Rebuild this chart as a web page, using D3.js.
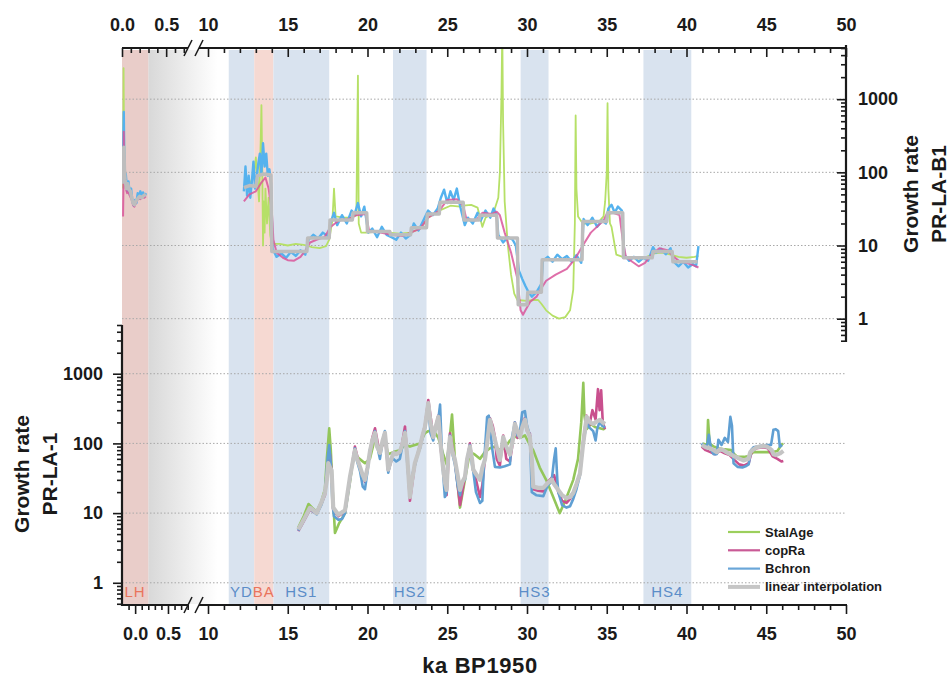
<!DOCTYPE html>
<html>
<head>
<meta charset="utf-8">
<script src="https://cdn.jsdelivr.net/npm/d3@7"></script>
<style>
  body { margin: 0; background: #fff; }
  text { font-family: "Liberation Sans", Arial, sans-serif; }
</style>
</head>
<body>
<svg id="chart"></svg>
<script>
// ka BP1950 / growth rate values
var seriesNames = ['StalAge', 'copRa', 'Bchron', 'linear interpolation'];

var youngTicksTop = [0, 0.5];
var youngTicksBot = [0, 0.5];
var oldTicks = [10, 15, 20, 25, 30, 35, 40, 45, 50];
var rateTicks = [1, 10, 100, 1000];

var bandNames = ['LH', 'YD', 'BA', 'HS1', 'HS2', 'HS3', 'HS4'];
var bandStart = [-0.2, 11.3, 12.9, 14.1, 21.6, 29.6, 37.3];
var bandEnd = [0.2, 12.9, 14.1, 17.6, 23.7, 31.35, 40.3];
var bandKind = ['warm', 'cold', 'warm', 'cold', 'cold', 'cold', 'cold'];

// PR-LA-B1 (upper panel); null splits the young and the glacial parts
var b1StalAge = [[0.012,60],[0.016,500],[0.018,2650],[0.021,600],[0.028,120],[0.035,70],[0.05,58],[0.065,62],[0.08,55],[0.103,46],[0.125,40],[0.148,40],[0.17,43],[0.193,46],[0.215,45],[0.238,47],[0.26,46],
  null,
  [12.25,60],[12.6,65],[12.9,100],[13.0,160],[13.1,80],[13.2,40],[13.3,250],[13.35,830],[13.4,120],[13.45,10],[13.5,40],[13.55,15],[13.6,60],[13.7,20],[13.8,45],[13.9,14],[14.0,10.5],[14.5,10.5],[15.0,10],[15.5,10.5],[16.0,10.2],[16.2,10],[16.5,9.5],[17.0,9.2],[17.4,9.8],[17.6,12],[17.8,22],[17.9,60],[18.0,25],[18.5,24],[19.0,24],[19.3,26],[19.4,2100],[19.45,20],[19.6,15],[20.0,15],[20.6,15.5],[21.3,15],[22.0,14.5],[22.7,15],[23.3,17],[23.8,24],[24.5,30],[25.2,35],[25.8,34],[26.0,35],[26.5,36],[26.9,33],[27.2,18],[27.4,24],[27.9,28],[28.2,45],[28.3,100],[28.4,1200],[28.45,9000],[28.5,500],[28.6,40],[28.8,10],[29.0,4],[29.2,2.2],[29.4,1.8],[30.0,1.75],[30.4,1.8],[30.7,1.8],[30.9,1.6],[31.2,1.3],[31.6,1.1],[32.0,1.0],[32.4,1.05],[32.7,1.3],[32.9,2.5],[33.0,20],[33.05,600],[33.1,60],[33.2,25],[33.5,20],[34.0,20],[34.5,21],[34.8,25],[34.9,40],[35.0,100],[35.05,880],[35.1,60],[35.2,20],[35.3,18],[35.5,10],[35.6,7.5],[36.0,7],[36.5,6.8],[37.0,6.6],[37.5,7.0],[38.0,7.8],[38.5,8.0],[39.0,7.5],[39.5,7.0],[40.0,6.8],[40.5,7.0],[40.75,7.2]];

var b1CopRa = [[0.012,25],[0.016,60],[0.02,360],[0.024,160],[0.032,75],[0.043,60],[0.058,52],[0.073,55],[0.088,48],[0.11,42],[0.125,36],[0.14,34],[0.163,40],[0.185,44],[0.208,43],[0.23,46],[0.253,45],[0.27,47],
  null,
  [12.25,40],[12.6,50],[13.0,55],[13.3,70],[13.6,85],[13.8,60],[14.0,30],[14.1,12],[14.3,8],[14.7,6.8],[15.0,6.3],[15.4,6.2],[15.8,7.0],[16.1,8.5],[16.4,11],[16.8,12],[17.3,13],[17.7,18],[18.2,22],[18.8,23],[19.3,26],[19.9,27],[20.1,16],[20.8,15],[21.5,14],[22.2,13.5],[22.7,15],[23.3,17],[23.8,24],[24.5,30],[25.0,42],[25.6,43],[26.0,35],[26.2,23],[26.8,22],[27.2,28],[27.8,27],[28.1,29],[28.3,26],[28.6,15],[29.0,8],[29.4,3.5],[29.6,1.3],[29.75,1.13],[29.9,1.3],[30.2,1.7],[30.6,2.0],[30.9,2.6],[31.2,3.3],[31.8,4.0],[32.5,4.8],[33.0,6.5],[33.5,10],[34.0,15],[34.5,19],[34.8,22],[35.0,27],[35.4,28],[35.8,26],[36.0,12],[36.2,7],[36.6,6],[37.0,5.2],[37.4,5.8],[37.8,7.5],[38.3,9.2],[38.8,8.6],[39.2,7],[39.6,6],[40.0,5.8],[40.4,5.4],[40.75,5.0]];

var b1Bchron = [[0.012,90],[0.016,300],[0.02,670],[0.024,250],[0.028,120],[0.035,70],[0.043,95],[0.058,55],[0.073,75],[0.088,50],[0.103,60],[0.118,40],[0.133,35],[0.148,42],[0.163,38],[0.178,52],[0.193,44],[0.208,55],[0.223,46],[0.238,53],[0.253,47],[0.272,52],
  null,
  [12.25,55],[12.35,120],[12.45,48],[12.55,90],[12.65,45],[12.75,75],[12.85,140],[12.95,60],[13.05,85],[13.15,130],[13.25,180],[13.35,95],[13.45,250],[13.55,120],[13.65,180],[13.75,90],[13.85,110],[13.95,70],[14.05,9],[14.3,7],[14.6,7.8],[14.9,6.8],[15.2,8.2],[15.5,7.2],[15.8,8.6],[16.1,7.5],[16.3,12],[16.6,14],[16.9,12.5],[17.2,15],[17.5,13.5],[17.7,21],[17.9,28],[18.1,19],[18.4,26],[18.7,20],[19.0,30],[19.2,27],[19.4,38],[19.6,25],[19.8,34],[20.05,15],[20.3,17],[20.6,13],[20.9,18],[21.2,14],[21.5,13],[21.8,12],[22.1,15],[22.4,12.5],[22.7,14],[22.9,20],[23.2,16],[23.5,22],[23.8,30],[24.1,26],[24.4,32],[24.6,45],[24.8,58],[25.0,38],[25.2,55],[25.4,42],[25.6,60],[25.8,35],[26.1,19],[26.3,24],[26.6,20],[26.9,28],[27.1,22],[27.4,30],[27.7,24],[27.9,32],[28.1,26],[28.2,14],[28.5,11],[28.8,13],[29.1,12],[29.3,10],[29.5,4.5],[29.7,3.5],[29.9,2.8],[30.1,2.3],[30.3,2.0],[30.6,2.3],[30.9,3.0],[31.0,6.2],[31.3,7.0],[31.6,6.0],[31.9,7.5],[32.2,6.5],[32.5,7.2],[32.8,6.0],[33.1,7.4],[33.4,5.8],[33.55,23],[33.8,19],[34.1,24],[34.4,18],[34.7,22],[34.95,20],[35.1,32],[35.3,36],[35.5,28],[35.7,34],[35.95,30],[36.1,7.5],[36.4,6.2],[36.7,7.0],[37.0,6.0],[37.3,6.8],[37.6,6.2],[37.9,9.5],[38.1,8.0],[38.4,9.0],[38.7,7.6],[39.0,9.2],[39.2,6.0],[39.5,5.2],[39.8,6.0],[40.1,5.0],[40.4,5.6],[40.6,5.2],[40.75,9.8]];

var b1Linear = [[0.012,70],[0.016,150],[0.02,220],[0.028,110],[0.035,80],[0.05,60],[0.065,70],[0.08,58],[0.095,55],[0.11,45],[0.125,38],[0.14,36],[0.155,40],[0.18,44],[0.2,47],[0.22,45],[0.245,48],[0.27,50],
  null,
  [12.25,62],[12.6,66],[13.0,64],[13.1,90],[13.5,95],[13.95,92],[14.0,8.3],[16.2,8.3],[16.25,12.7],[17.6,12.7],[17.65,22.4],[19.05,22.4],[19.1,28],[19.95,28],[20.0,15.5],[21.4,15.5],[21.45,14],[22.7,14],[22.75,17.5],[23.7,17.5],[23.75,27],[24.5,27],[24.55,39],[26.0,39],[26.05,22.4],[27.0,22.4],[27.05,26],[28.1,26],[28.15,12.7],[29.4,12.7],[29.45,1.55],[30.0,1.55],[30.05,2.3],[30.9,2.3],[30.95,6.4],[33.45,6.4],[33.5,21.3],[35.0,21.3],[35.05,28],[36.0,28],[36.05,6.8],[37.85,6.8],[37.9,8.3],[39.1,8.3],[39.15,6.0],[40.7,6.0]];

// PR-LA-1 (lower panel); null splits the two growth phases
var la1StalAge = [[15.66,6.2],[16.0,9],[16.3,13.5],[16.6,11.5],[16.81,10.5],[17.1,14.5],[17.33,22],[17.45,60],[17.6,165],[17.7,80],[17.8,25],[17.96,5.2],[18.2,7],[18.59,10],[18.9,28],[19.05,50],[19.21,70],[19.5,60],[19.84,52],[20.15,60],[20.47,120],[20.78,80],[21.09,110],[21.3,70],[21.62,75],[22.03,80],[22.35,95],[22.66,90],[22.97,95],[23.29,100],[23.6,140],[23.81,150],[24.12,157],[24.44,120],[24.75,70],[24.96,50],[25.17,130],[25.3,260],[25.48,60],[25.8,12],[26.11,30],[26.42,75],[26.7,70],[27.05,60],[27.36,75],[27.68,85],[27.99,90],[28.3,80],[28.6,85],[28.93,110],[29.24,125],[29.56,120],[29.87,130],[30.18,95],[30.39,80],[30.8,45],[31.2,30],[31.6,18],[32.05,10],[32.4,15],[32.9,30],[33.2,60],[33.4,200],[33.53,740],[33.6,250],[33.74,160],[34.0,190],[34.3,170],[34.57,165],[34.8,160],[34.89,165],
  null,
  [41.0,100],[41.3,95],[41.35,217],[41.45,100],[41.7,90],[42.0,85],[42.4,82],[42.8,80],[43.0,70],[43.2,64],[43.6,64],[43.9,66],[44.2,75],[44.6,75],[45.0,75],[45.4,75],[45.7,78],[45.95,95],[46.05,100]];

var la1CopRa = [[15.66,5.5],[16.0,7.6],[16.39,11.2],[16.81,9.8],[17.1,13.5],[17.33,18],[17.54,48],[17.65,70],[17.75,38],[17.85,11],[18.17,9],[18.59,10.5],[18.9,32],[19.21,90],[19.53,45],[19.84,28],[20.15,75],[20.3,120],[20.47,165],[20.78,70],[21.09,135],[21.3,40],[21.62,70],[22.03,72],[22.2,110],[22.35,175],[22.5,60],[22.66,15],[22.97,50],[23.29,95],[23.6,180],[23.81,420],[24.12,130],[24.44,250],[24.6,80],[24.75,40],[24.96,18],[25.17,140],[25.48,55],[25.8,13],[26.11,34],[26.42,100],[26.63,45],[27.05,17],[27.2,25],[27.36,60],[27.68,230],[27.85,180],[27.99,123],[28.1,60],[28.3,48],[28.51,130],[28.7,60],[28.93,55],[29.1,100],[29.24,200],[29.4,120],[29.56,140],[29.7,210],[29.87,230],[30.0,150],[30.18,140],[30.39,22],[30.7,21],[31.02,20.5],[31.3,28],[31.54,32],[31.7,35],[31.96,20],[32.2,15],[32.48,14],[32.7,16],[32.9,20],[33.1,26],[33.32,38],[33.5,100],[33.74,250],[33.9,180],[34.1,300],[34.3,220],[34.45,600],[34.55,300],[34.65,580],[34.75,200],[34.89,160],
  null,
  [40.95,90],[41.2,80],[41.5,75],[41.8,70],[42.1,78],[42.4,72],[42.7,68],[43.0,58],[43.3,50],[43.6,48],[43.9,52],[44.1,78],[44.4,85],[44.8,88],[45.1,85],[45.4,65],[45.7,60],[45.95,55],[46.07,56]];

var la1Bchron = [[15.66,5.6],[16.0,7.8],[16.39,11.5],[16.81,9.6],[17.1,13],[17.33,19],[17.5,60],[17.6,95],[17.7,50],[17.8,14],[17.9,9],[18.17,8],[18.4,8.2],[18.59,10],[18.9,30],[19.21,85],[19.35,55],[19.53,40],[19.7,24],[19.84,22],[20.0,40],[20.15,80],[20.47,150],[20.6,95],[20.78,60],[20.95,110],[21.09,150],[21.2,80],[21.3,38],[21.45,55],[21.62,60],[21.8,55],[22.03,60],[22.2,95],[22.35,150],[22.5,50],[22.66,18],[22.8,35],[22.97,48],[23.15,70],[23.29,85],[23.45,120],[23.6,160],[23.81,330],[23.95,140],[24.12,110],[24.3,180],[24.44,220],[24.55,360],[24.65,90],[24.75,35],[24.85,17],[24.96,20],[25.05,70],[25.17,130],[25.3,75],[25.48,50],[25.65,25],[25.8,18],[25.95,28],[26.11,30],[26.25,60],[26.42,95],[26.55,50],[26.63,40],[26.8,20],[27.05,14],[27.2,15],[27.3,50],[27.5,240],[27.6,250],[27.68,200],[27.8,90],[27.99,46],[28.3,45],[28.6,47],[28.93,50],[29.05,120],[29.24,200],[29.4,130],[29.56,150],[29.7,280],[29.87,290],[30.0,180],[30.18,130],[30.3,20],[30.6,18],[31.02,17.5],[31.3,25],[31.54,28],[31.7,60],[31.8,85],[31.9,30],[31.96,20],[32.2,13],[32.48,12],[32.7,12.5],[32.9,16],[33.1,22],[33.32,35],[33.5,90],[33.74,200],[33.9,170],[34.15,150],[34.3,110],[34.4,160],[34.57,210],[34.7,180],[34.89,170],
  null,
  [40.95,100],[41.1,90],[41.3,95],[41.4,133],[41.55,80],[41.7,70],[41.9,70],[42.0,113],[42.2,95],[42.4,120],[42.6,105],[42.75,240],[42.85,180],[42.95,52],[43.2,46],[43.5,45],[43.7,47],[43.9,50],[44.05,80],[44.2,88],[44.6,92],[45.0,95],[45.3,95],[45.45,157],[45.6,160],[45.75,150],[45.85,90],[46.0,95]];

var la1Linear = [[15.66,5.8],[16.0,8],[16.39,11.9],[16.6,11],[16.81,10],[17.1,14],[17.33,19.5],[17.45,30],[17.54,52],[17.65,45],[17.75,41],[17.85,12],[18.17,9.5],[18.59,11],[18.9,33],[19.05,50],[19.21,80],[19.35,60],[19.53,46],[19.7,35],[19.84,30],[20.0,45],[20.15,76],[20.3,110],[20.47,142],[20.6,90],[20.78,73],[20.95,110],[21.09,142],[21.2,80],[21.3,42],[21.45,55],[21.62,73],[21.8,70],[22.03,76],[22.2,100],[22.35,142],[22.5,60],[22.66,17],[22.8,30],[22.97,52],[23.15,70],[23.29,90],[23.45,130],[23.6,172],[23.7,250],[23.81,380],[23.95,200],[24.12,123],[24.3,180],[24.44,240],[24.6,90],[24.75,42],[24.85,28],[24.96,21.5],[25.05,60],[25.17,123],[25.3,80],[25.48,58],[25.65,35],[25.8,21.5],[25.95,28],[26.11,33],[26.25,60],[26.42,90],[26.55,60],[26.63,42],[26.85,35],[27.05,30],[27.2,45],[27.36,58],[27.5,100],[27.68,218],[27.85,150],[27.99,112],[28.15,80],[28.3,58],[28.4,80],[28.51,123],[28.7,90],[28.93,69],[29.1,110],[29.24,190],[29.4,150],[29.56,123],[29.7,170],[29.87,218],[30.0,160],[30.18,123],[30.3,60],[30.39,24],[30.7,23],[31.02,23],[31.3,27],[31.54,30],[31.75,25],[31.96,21.5],[32.2,18],[32.48,16.5],[32.7,17],[32.9,19.5],[33.1,26],[33.32,37],[33.5,90],[33.74,240],[33.95,200],[34.15,190],[34.35,205],[34.57,218],[34.75,200],[34.89,190],
  null,
  [40.95,95],[41.2,88],[41.48,85],[41.7,80],[41.9,75],[42.1,82],[42.31,80],[42.5,75],[42.73,70],[42.95,66],[43.15,63],[43.35,60],[43.57,57],[43.88,60],[44.0,75],[44.19,82],[44.4,88],[44.61,90],[44.8,92],[45.03,90],[45.2,85],[45.34,80],[45.45,70],[45.6,68],[45.87,72],[46.07,78]];

var W = 952, H = 679;
var svg = d3.select('#chart').attr('width', W).attr('height', H);

// broken x axis: a short young segment, then 10-50 ka
var xYoungTop = d3.scaleLinear().domain([0, 0.77]).range([122, 190]);
var xYoungBot = d3.scaleLinear().domain([-0.2, 0.82]).range([122, 189]);
var xOld = d3.scaleLinear().domain([10, 50]).range([208, 846]);
var yTop = d3.scaleLog().domain([0.48, 5500]).range([342, 45]);
var yBot = d3.scaleLog().domain([0.48, 5000]).range([605, 325]);

var left = 122, right = 846, axTop = 48, axBot = 605;

// ---- background bands
var defs = svg.append('defs');
var grad = defs.append('linearGradient').attr('id', 'fade');
grad.append('stop').attr('offset', '0%').attr('stop-color', '#d8d8d8');
grad.append('stop').attr('offset', '100%').attr('stop-color', '#ffffff');

svg.append('rect')
    .attr('x', xYoungBot(0.2))
    .attr('y', axTop + 2)
    .attr('width', xOld(10.6) - xYoungBot(0.2))
    .attr('height', axBot - axTop - 3)
    .attr('fill', 'url(#fade)');

var bandX = function(v) { return v < 5 ? xYoungBot(v) : xOld(v); };

svg.append('g').selectAll('rect')
    .data(bandNames)
    .enter().append('rect')
    .attr('x', function(d, i) { return bandX(bandStart[i]); })
    .attr('y', axTop + 2)
    .attr('width', function(d, i) { return bandX(bandEnd[i]) - bandX(bandStart[i]); })
    .attr('height', axBot - axTop - 3)
    .attr('fill', function(d, i) {
        if (bandKind[i] === 'cold') return '#d9e3ef';
        return i === 0 ? '#e9cdc9' : '#f6d9d2';
    });

svg.append('g').selectAll('text')
    .data(bandNames)
    .enter().append('text')
    .attr('x', function(d, i) { return (bandX(bandStart[i]) + bandX(bandEnd[i])) / 2; })
    .attr('y', 597)
    .attr('text-anchor', 'middle')
    .style('font-size', '15px')
    .style('letter-spacing', '1px')
    .attr('fill', function(d, i) { return bandKind[i] === 'cold' ? '#5b8dc8' : '#e9745c'; })
    .text(function(d) { return d; });

// ---- dotted grid
function grid(y) {
    svg.append('g').selectAll('line')
        .data(rateTicks)
        .enter().append('line')
        .attr('x1', left).attr('x2', right)
        .attr('y1', function(d) { return y(d); })
        .attr('y2', function(d) { return y(d); })
        .attr('stroke', '#a8a8a8')
        .attr('stroke-width', 1)
        .attr('stroke-dasharray', '1.5,2');
}
grid(yTop);
grid(yBot);

// ---- series
defs.append('clipPath').attr('id', 'clipTop')
    .append('rect').attr('x', left).attr('y', axTop).attr('width', right - left).attr('height', 342 - axTop);
defs.append('clipPath').attr('id', 'clipBot')
    .append('rect').attr('x', left).attr('y', 325).attr('width', right - left).attr('height', axBot - 325);

var xTopData = function(v) { return v < 5 ? xYoungTop(v) : xOld(v); };

function drawSeries(clip, y, data, color, width, opacity) {
    var line = d3.line()
        .defined(function(d) { return d !== null; })
        .x(function(d) { return xTopData(d[0]); })
        .y(function(d) { return y(d[1]); });
    svg.append('path')
        .attr('clip-path', 'url(#' + clip + ')')
        .attr('d', line(data))
        .attr('fill', 'none')
        .attr('stroke', color)
        .attr('stroke-width', width)
        .attr('stroke-linejoin', 'round')
        .attr('opacity', opacity);
}

drawSeries('clipTop', yTop, b1StalAge, '#b6e067', 1.8, 1);
drawSeries('clipTop', yTop, b1Bchron, '#55b2ee', 2.4, 1);
drawSeries('clipTop', yTop, b1CopRa, '#d9559a', 2, 0.85);
drawSeries('clipTop', yTop, b1Linear, '#bdbdbd', 3.5, 1);

drawSeries('clipBot', yBot, la1StalAge, '#93c65a', 2.6, 1);
drawSeries('clipBot', yBot, la1CopRa, '#c9508e', 2.6, 1);
drawSeries('clipBot', yBot, la1Bchron, '#5f9fd3', 2.6, 1);
drawSeries('clipBot', yBot, la1Linear, '#c4c4c4', 4.2, 1);

// ---- axes
function styleAxis(g, size) {
    g.select('.domain').remove();
    g.attr('font-family', null).attr('font-size', null);
    g.selectAll('line').attr('stroke', '#1a1a1a').attr('stroke-width', 1.6);
    g.selectAll('text')
        .style('font-size', size)
        .style('font-weight', 'bold')
        .attr('fill', '#1a1a1a');
}

var minorOld = d3.range(10, 51).filter(function(d) { return d % 5 !== 0; });
var minorYoungTop = [0.1, 0.2, 0.3, 0.4, 0.6, 0.7];
var minorYoungBot = [-0.1, 0.1, 0.2, 0.3, 0.4, 0.6, 0.7, 0.8];

// top axis (ticks pointing into the plot)
svg.append('g').attr('transform', 'translate(0,' + axTop + ')')
    .call(d3.axisTop(xOld).tickValues(oldTicks).tickSizeInner(-9).tickPadding(17))
    .call(styleAxis, '18px');
svg.append('g').attr('transform', 'translate(0,' + axTop + ')')
    .call(d3.axisTop(xYoungTop).tickValues(youngTicksTop).tickSizeInner(-9).tickPadding(17)
        .tickFormat(d3.format('.1f')))
    .call(styleAxis, '18px');
svg.append('g').attr('transform', 'translate(0,' + axTop + ')')
    .call(d3.axisTop(xOld).tickValues(minorOld).tickSizeInner(-5).tickFormat(''))
    .call(styleAxis, '18px');
svg.append('g').attr('transform', 'translate(0,' + axTop + ')')
    .call(d3.axisTop(xYoungTop).tickValues(minorYoungTop).tickSizeInner(-5).tickFormat(''))
    .call(styleAxis, '18px');

// bottom axis
svg.append('g').attr('transform', 'translate(0,' + axBot + ')')
    .call(d3.axisBottom(xOld).tickValues(oldTicks).tickSizeInner(9).tickPadding(13))
    .call(styleAxis, '18px');
svg.append('g').attr('transform', 'translate(0,' + axBot + ')')
    .call(d3.axisBottom(xYoungBot).tickValues(youngTicksBot).tickSizeInner(9).tickPadding(13)
        .tickFormat(d3.format('.1f')))
    .call(styleAxis, '18px');
svg.append('g').attr('transform', 'translate(0,' + axBot + ')')
    .call(d3.axisBottom(xOld).tickValues(minorOld).tickSizeInner(5).tickFormat(''))
    .call(styleAxis, '18px');
svg.append('g').attr('transform', 'translate(0,' + axBot + ')')
    .call(d3.axisBottom(xYoungBot).tickValues(minorYoungBot).tickSizeInner(5).tickFormat(''))
    .call(styleAxis, '18px');

// right axis of the upper panel (ticks inward)
var minorTop = yTop.ticks().filter(function(d) { return rateTicks.indexOf(d) < 0; });
svg.append('g').attr('transform', 'translate(' + right + ',0)')
    .call(d3.axisRight(yTop).tickValues(rateTicks).tickSizeInner(-9).tickPadding(12).tickFormat(d3.format('d')))
    .call(styleAxis, '18px');
svg.append('g').attr('transform', 'translate(' + right + ',0)')
    .call(d3.axisRight(yTop).tickValues(minorTop).tickSizeInner(-5).tickFormat(''))
    .call(styleAxis, '18px');

// left axis of the lower panel (ticks outward)
var minorBot = yBot.ticks().filter(function(d) { return rateTicks.indexOf(d) < 0; });
svg.append('g').attr('transform', 'translate(' + left + ',0)')
    .call(d3.axisLeft(yBot).tickValues(rateTicks).tickSizeInner(9).tickPadding(10).tickFormat(d3.format('d')))
    .call(styleAxis, '18px');
svg.append('g').attr('transform', 'translate(' + left + ',0)')
    .call(d3.axisLeft(yBot).tickValues(minorBot).tickSizeInner(5).tickFormat(''))
    .call(styleAxis, '18px');

// axis lines with the break
var breakA = 188, breakB = 199;
var frame = svg.append('g').attr('stroke', '#1a1a1a').attr('stroke-width', 2.2).attr('fill', 'none');
[axTop, axBot].forEach(function(y) {
    frame.append('line').attr('x1', left).attr('x2', breakA).attr('y1', y).attr('y2', y);
    frame.append('line').attr('x1', breakB).attr('x2', right + 1).attr('y1', y).attr('y2', y);
    [breakA, breakB].forEach(function(x) {
        frame.append('line')
            .attr('x1', x - 4).attr('y1', y + 8)
            .attr('x2', x + 4).attr('y2', y - 8)
            .attr('stroke-width', 1.6);
    });
});
frame.append('line').attr('x1', right).attr('x2', right).attr('y1', 45).attr('y2', 342);
frame.append('line').attr('x1', left).attr('x2', left).attr('y1', 325).attr('y2', axBot + 1);

// ---- titles
svg.append('text')
    .attr('x', 480).attr('y', 673)
    .attr('text-anchor', 'middle')
    .style('font-size', '22px').style('font-weight', 'bold')
    .style('letter-spacing', '0.6px')
    .attr('fill', '#1a1a1a')
    .text('ka BP1950');

function yTitle(x, y, lines) {
    var t = svg.append('text')
        .attr('transform', 'translate(' + x + ',' + y + ') rotate(-90)')
        .attr('text-anchor', 'middle')
        .style('font-size', '21px').style('font-weight', 'bold')
        .attr('fill', '#1a1a1a');
    lines.forEach(function(s, i) {
        t.append('tspan').attr('x', 0).attr('dy', i === 0 ? 0 : 28).text(s);
    });
}
yTitle(29, 474, ['Growth rate', 'PR-LA-1']);
yTitle(918, 194, ['Growth rate', 'PR-LA-B1']);

// ---- legend
var legendColors = ['#9ccf5c', '#c95a96', '#6aa6d8', '#c6c6c6'];
var legendWidths = [2.2, 2.2, 2.2, 4];
var legend = svg.append('g').attr('transform', 'translate(728,532)');
var item = legend.selectAll('g')
    .data(seriesNames)
    .enter().append('g')
    .attr('transform', function(d, i) { return 'translate(0,' + (i * 18.3) + ')'; });
item.append('line')
    .attr('x1', 0).attr('x2', 32)
    .attr('stroke', function(d, i) { return legendColors[i]; })
    .attr('stroke-width', function(d, i) { return legendWidths[i]; });
item.append('text')
    .attr('x', 37).attr('dy', '0.35em')
    .style('font-size', '13px').style('font-weight', 'bold')
    .attr('fill', '#1a1a1a')
    .text(function(d) { return d; });
</script>
</body>
</html>
